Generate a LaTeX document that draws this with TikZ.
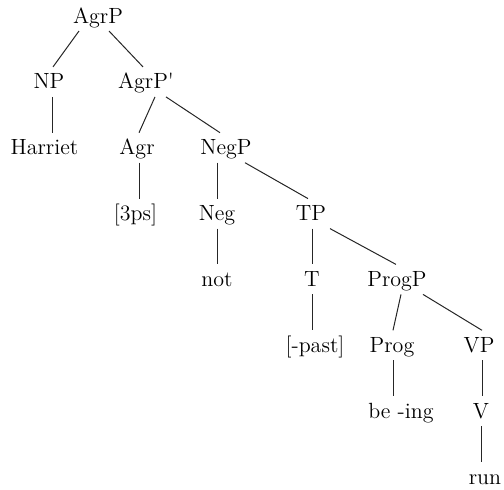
\documentclass[tikz,border=0pt]{standalone}
\usepackage{tikz}
\usetikzlibrary{calc}
\tikzset{
  cat/.style={anchor=base,inner sep=0pt,font=\fontsize{11}{13}\selectfont},
  branch/.style={line width=0.5pt,color=black!85}
}
% branch from parent to child, with small x offsets at both ends
\newcommand{\branchline}[4]{\draw[branch] ($(#1.base)+(#2,8)$) -- ($(#3.base)+(#4,-22)$);}

\begin{document}
\begin{tikzpicture}[x=0.5pt,y=-0.5pt]
  \useasboundingbox (0,0) rectangle (504,489);

  \node[cat] (agrp)   at (98,23)      {AgrP};
  \node[cat] (np)     at (49,88.9)    {NP};
  \node[cat] (agrbar) at (146,88.9)   {AgrP\textquotesingle};
  \node[cat] (harr)   at (44.5,154.7) {Harriet};
  \node[cat] (agr)    at (137,154.7)  {Agr};
  \node[cat] (negp)   at (226,154.7)  {NegP};
  \node[cat] (agrf)   at (135.5,220.6){[3ps]};
  \node[cat] (neg)    at (217,220.6)  {Neg};
  \node[cat] (tp)     at (311,220.6)  {TP};
  \node[cat] (not)    at (217,286.4)  {not};
  \node[cat] (t)      at (312,286.4)  {T};
  \node[cat] (progp)  at (397,286.4)  {ProgP};
  \node[cat] (past)   at (315,352.3)  {[-past]};
  \node[cat] (prog)   at (392,352.3)  {Prog};
  \node[cat] (vp)     at (479,352.3)  {VP};
  \node[cat] (being)  at (401,418.2)  {be -ing};
  \node[cat] (v)      at (481,418.2)  {V};
  \node[cat] (run)    at (485,484)    {run};

  \branchline{agrp}{-19}{np}{4}
  \branchline{agrp}{11}{agrbar}{-3}
  \branchline{np}{3}{harr}{7.5}
  \branchline{agrbar}{9}{agr}{2}
  \branchline{agrbar}{20}{negp}{-6}
  \branchline{agr}{2}{agrf}{3.5}
  \branchline{negp}{-9}{neg}{0}
  \branchline{negp}{19}{tp}{-3}
  \branchline{neg}{0}{not}{0}
  \branchline{tp}{1}{t}{0}
  \branchline{tp}{19}{progp}{-1}
  \branchline{t}{0}{past}{-3}
  \branchline{progp}{4}{prog}{1}
  \branchline{progp}{26}{vp}{3}
  \branchline{prog}{1}{being}{-8}
  \branchline{vp}{3}{v}{1}
  \branchline{v}{0}{run}{-4}
\end{tikzpicture}
\end{document}
